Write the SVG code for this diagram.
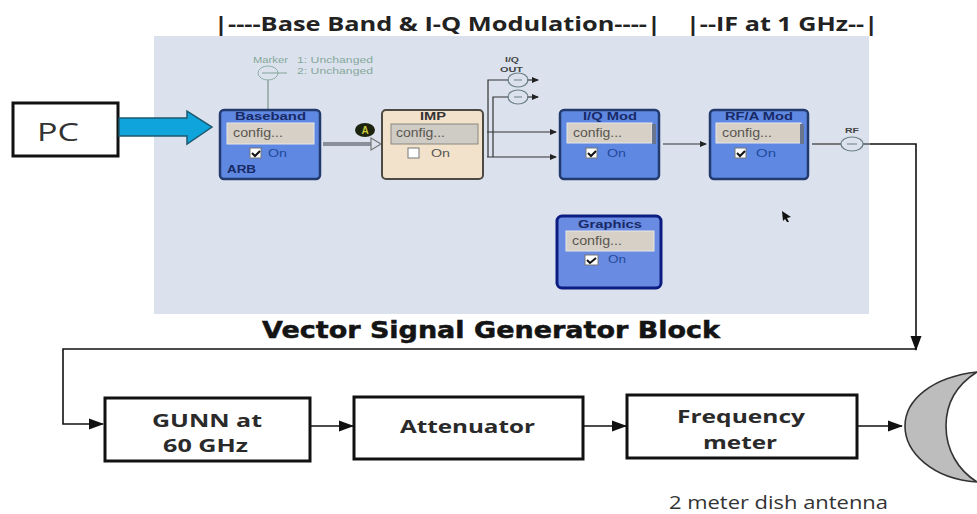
<svg xmlns="http://www.w3.org/2000/svg" width="977" height="514" viewBox="0 0 977 514">
<defs>
<marker id="a" markerUnits="userSpaceOnUse" markerWidth="15" markerHeight="12" refX="14" refY="6" orient="auto"><path d="M0 0.5L15 6L0 11.5Z" fill="#111"/></marker>
<marker id="s" markerUnits="userSpaceOnUse" markerWidth="7" markerHeight="6" refX="6" refY="3" orient="auto"><path d="M0 0L7 3L0 6Z" fill="#222"/></marker>
</defs>
<style>
text{font-family:"Open Sans","DejaVu Sans",sans-serif}
.blk{fill:#5f88e2;stroke:#233a6e;stroke-width:2.5}
.gray{fill:#d6d0c6;stroke:#e8e8e8;stroke-width:1}
.cfg{font-size:12px;fill:#5a5750;font-family:"Liberation Sans",sans-serif}
.on{font-size:11px;fill:#224a9a;font-family:"Liberation Sans",sans-serif}
.ttl{font-size:11.5px;font-weight:bold;fill:#182a66;font-family:"Liberation Sans",sans-serif}
.chk{fill:#fff;stroke:#777;stroke-width:1}
.w{fill:#fff;stroke:#111;stroke-width:3}
.lbl{font-size:18.5px;font-weight:bold;fill:#2a2a2a}
.hdr{font-size:19px;font-weight:bold;fill:#222}
.thin{fill:none;stroke:#333;stroke-width:1.2}
.port{fill:#dde3ee;stroke:#6b7f86;stroke-width:1.2}
.line{fill:none;stroke:#111;stroke-width:1.6}
.mk{font-size:8.5px;fill:#86a89a;font-family:"Liberation Sans",sans-serif}
.sm{font-size:8px;font-weight:bold;fill:#444;font-family:"Liberation Sans",sans-serif}
</style>
<rect width="977" height="514" fill="#fff"/>
<text x="214" y="31" class="hdr" textLength="447" lengthAdjust="spacingAndGlyphs">|----Base Band &amp; I-Q Modulation----|</text>
<text x="686" y="31" class="hdr" textLength="192" lengthAdjust="spacingAndGlyphs">|--IF at 1 GHz--|</text>
<rect x="154" y="36" width="715" height="278" fill="#dbe2ee"/>
<text x="262" y="338" font-size="23" font-weight="bold" fill="#141414" stroke="#141414" stroke-width="0.5" style="font-family:'DejaVu Sans',sans-serif" textLength="458" lengthAdjust="spacingAndGlyphs">Vector Signal Generator Block</text>

<g id="connectors">
<path d="M268 80V110" fill="none" stroke="#8fa3a0" stroke-width="1.5"/>
<path d="M323 144H374" fill="none" stroke="#8a8f99" stroke-width="4"/>
<path d="M371 138L381 144L371 150Z" fill="#dbe2ee" stroke="#777" stroke-width="1.2"/>
<path d="M488 157V80H509" class="thin"/>
<path d="M493 157V97H509" class="thin" stroke-width="2"/>
<path d="M487 132H556" class="thin" marker-end="url(#s)"/>
<path d="M487 157H556" class="thin" marker-end="url(#s)"/>
<path d="M527 80H538" class="thin" marker-end="url(#s)"/>
<path d="M527 97H538" class="thin" marker-end="url(#s)"/>
<path d="M663 144H706" class="thin" marker-end="url(#s)"/>
<path d="M812 144H841" class="thin"/>
<path d="M863 144H870" class="thin"/>
<path d="M870 144H916V350" class="line" marker-end="url(#a)"/>
<path d="M916 349H63V424H103" class="line" marker-end="url(#a)"/>
<path d="M311 426H353" class="line" marker-end="url(#a)"/>
<path d="M584 426H626" class="line" marker-end="url(#a)"/>
<path d="M858 426H902" class="line" marker-end="url(#a)"/>
</g>

<g id="pc"><rect x="13" y="103" width="105" height="53" class="w"/><text x="37" y="141" font-size="26" fill="#333" textLength="42" lengthAdjust="spacingAndGlyphs">PC</text></g>
<g id="pc-arrow"><path d="M119 118H187V111L212 127L187 144V136H119Z" fill="#10a4dc" stroke="#1e5a70" stroke-width="1.5"/></g>

<g id="marker">
<ellipse cx="268" cy="73" rx="10" ry="7" fill="none" stroke="#8fb0a5" stroke-width="1"/>
<path d="M262 73H287" stroke="#7fa595" fill="none"/>
<text x="253" y="63" class="mk" textLength="35" lengthAdjust="spacingAndGlyphs">Marker</text>
<text x="297" y="63" class="mk" textLength="76" lengthAdjust="spacingAndGlyphs">1: Unchanged</text>
<text x="297" y="74" class="mk" textLength="76" lengthAdjust="spacingAndGlyphs">2: Unchanged</text>
</g>

<g id="baseband">
<rect x="220" y="110" width="100" height="69" rx="4" class="blk"/>
<text x="235" y="120" class="ttl" textLength="71" lengthAdjust="spacingAndGlyphs">Baseband</text>
<rect x="227" y="123" width="87" height="21" class="gray"/>
<text x="233" y="137" class="cfg" textLength="50" lengthAdjust="spacingAndGlyphs">config...</text>
<rect x="250" y="148" width="11" height="10" class="chk"/><path d="M252 153l3 3l5-5" stroke="#111" stroke-width="2" fill="none"/>
<text x="268" y="157" class="on" textLength="19" lengthAdjust="spacingAndGlyphs">On</text>
<text x="227" y="173" class="ttl" textLength="29" lengthAdjust="spacingAndGlyphs">ARB</text>
</g>

<g id="a-badge"><ellipse cx="365" cy="130" rx="10" ry="7" fill="#1c2410"/><text x="365" y="134" font-size="10" font-weight="bold" fill="#c8c83c" text-anchor="middle" style="font-family:'Liberation Sans',sans-serif">A</text></g>

<g id="imp">
<rect x="382" y="110" width="101" height="69" rx="4" fill="#f3e2cb" stroke="#4d4a44" stroke-width="2"/>
<text x="420" y="120" class="ttl" style="fill:#333" textLength="26" lengthAdjust="spacingAndGlyphs">IMP</text>
<rect x="391" y="124" width="87" height="20" fill="#cfcbc5" stroke="#8a8780"/>
<text x="396" y="137" class="cfg" textLength="49" lengthAdjust="spacingAndGlyphs">config...</text>
<rect x="408" y="148" width="11" height="10" fill="#fff" stroke="#777"/>
<text x="431" y="157" class="on" style="fill:#555" textLength="19" lengthAdjust="spacingAndGlyphs">On</text>
</g>

<g id="iq-out">
<text x="505" y="62" class="sm" textLength="14" lengthAdjust="spacingAndGlyphs">I/Q</text>
<text x="500" y="72" class="sm" textLength="23" lengthAdjust="spacingAndGlyphs">OUT</text>
<ellipse cx="518" cy="80" rx="10" ry="7" fill="none" stroke="#6b7f86" stroke-width="1.2"/>
<ellipse cx="518" cy="97" rx="10" ry="7" fill="none" stroke="#6b7f86" stroke-width="1.2"/>
<path d="M514 80H522M514 97H522" stroke="#6b7f86"/>
</g>

<g id="iq-mod">
<rect x="560" y="110" width="99" height="69" rx="4" class="blk"/>
<text x="583" y="120" class="ttl" textLength="54" lengthAdjust="spacingAndGlyphs">I/Q Mod</text>
<rect x="567" y="123" width="85" height="20" class="gray"/>
<rect x="652" y="124" width="4" height="20" fill="#6a7590"/>
<text x="573" y="137" class="cfg" textLength="49" lengthAdjust="spacingAndGlyphs">config...</text>
<rect x="586" y="148" width="11" height="10" class="chk"/><path d="M588 153l3 3l5-5" stroke="#111" stroke-width="2" fill="none"/>
<text x="607" y="157" class="on" textLength="19" lengthAdjust="spacingAndGlyphs">On</text>
</g>

<g id="rf-mod">
<rect x="710" y="110" width="98" height="69" rx="4" class="blk"/>
<text x="725" y="120" class="ttl" textLength="68" lengthAdjust="spacingAndGlyphs">RF/A Mod</text>
<rect x="716" y="123" width="85" height="20" class="gray"/>
<rect x="800" y="124" width="4" height="20" fill="#6a7590"/>
<text x="722" y="137" class="cfg" textLength="50" lengthAdjust="spacingAndGlyphs">config...</text>
<rect x="735" y="148" width="11" height="10" class="chk"/><path d="M737 153l3 3l5-5" stroke="#111" stroke-width="2" fill="none"/>
<text x="756" y="157" class="on" textLength="20" lengthAdjust="spacingAndGlyphs">On</text>
</g>

<g id="rf-port">
<text x="845" y="133" class="sm" textLength="14" lengthAdjust="spacingAndGlyphs">RF</text>
<ellipse cx="852" cy="144" rx="11" ry="7" class="port"/>
<path d="M847 144H857" stroke="#6b7f86"/>
</g>

<g id="graphics">
<rect x="557" y="216" width="104" height="72" rx="5" fill="#6a8be2" stroke="#0c1c80" stroke-width="3"/>
<text x="578" y="228" class="ttl" textLength="64" lengthAdjust="spacingAndGlyphs">Graphics</text>
<rect x="566" y="231" width="88" height="20" class="gray"/>
<text x="572" y="245" class="cfg" textLength="50" lengthAdjust="spacingAndGlyphs">config...</text>
<rect x="585" y="255" width="13" height="10" class="chk"/><path d="M587 260l3 3l6-5" stroke="#111" stroke-width="2" fill="none"/>
<text x="608" y="263" class="on" textLength="18" lengthAdjust="spacingAndGlyphs">On</text>
</g>

<path id="cursor" d="M782 211L791 217L787 218L789 222L787 222L785 219L783 221Z" fill="#111"/>

<g id="gunn"><rect x="105" y="398" width="205" height="63" class="w"/><text x="152" y="427" class="lbl" textLength="110" lengthAdjust="spacingAndGlyphs">GUNN at</text><text x="163" y="452" class="lbl" textLength="85" lengthAdjust="spacingAndGlyphs">60 GHz</text></g>
<g id="attenuator"><rect x="354" y="397" width="229" height="62" class="w"/><text x="400" y="433" class="lbl" textLength="135" lengthAdjust="spacingAndGlyphs">Attenuator</text></g>
<g id="freq"><rect x="627" y="395" width="230" height="63" class="w"/><text x="677" y="423" class="lbl" textLength="128" lengthAdjust="spacingAndGlyphs">Frequency</text><text x="703" y="449" class="lbl" textLength="74" lengthAdjust="spacingAndGlyphs">meter</text></g>
<g id="dish">
<path d="M977 372C932 377 905 400 905 426C905 452 932 479 977 482C958 470 946 450 946 426C946 402 958 384 977 372Z" fill="#bdbdbd" stroke="#333" stroke-width="1.6"/>
<text x="669" y="509" font-size="18" fill="#333" textLength="219" lengthAdjust="spacingAndGlyphs">2 meter dish antenna</text>
</g>
</svg>
